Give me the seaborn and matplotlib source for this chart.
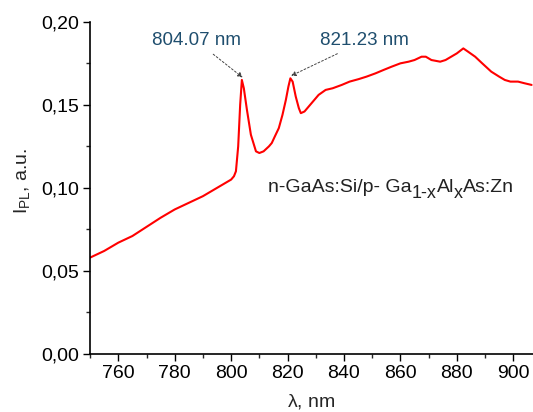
import numpy as np
import pandas as pd
import seaborn as sns
import matplotlib.pyplot as plt
from matplotlib.ticker import MultipleLocator, FuncFormatter

# PL spectrum
wavelength = [750, 755, 760, 765, 770, 775, 780, 785, 790, 795, 798, 800, 801, 801.7,
              802.5, 803.2, 803.8, 804.5, 805.6, 807, 808.8, 810, 811.5, 813.4,
              814.4, 815.5, 816.9, 818.2, 819.4, 820.3, 821.0, 821.8, 822.9, 824.0,
              824.7, 826, 827.5, 831, 833.5, 836, 839.2, 842, 845.2, 848, 851.2,
              854, 856.9, 860, 862.9, 865, 867.5, 869, 871, 874.1, 876, 878, 880,
              882.3, 884, 886.5, 889, 892.2, 895, 897, 899, 901.7, 904, 906.5]
intensity = [0.058, 0.062, 0.067, 0.071, 0.0765, 0.082, 0.087, 0.091, 0.095, 0.100,
             0.103, 0.105, 0.107, 0.110, 0.125, 0.150, 0.165, 0.160, 0.147, 0.132,
             0.122, 0.121, 0.122, 0.125, 0.127, 0.131, 0.136, 0.144, 0.153, 0.161,
             0.166, 0.164, 0.155, 0.148, 0.145, 0.146, 0.149, 0.156, 0.159, 0.160,
             0.162, 0.164, 0.1655, 0.167, 0.169, 0.171, 0.173, 0.175, 0.176, 0.177,
             0.179, 0.179, 0.177, 0.176, 0.177, 0.179, 0.181, 0.184, 0.182, 0.179,
             0.175, 0.170, 0.167, 0.165, 0.164, 0.164, 0.163, 0.162]

peak_labels = ["804.07 nm", "821.23 nm"]
peak_x = [804.07, 821.23]
peak_y = [0.165, 0.166]

# sample label pieces: (text, baseline shift in points)
sample_parts = [("n-GaAs:Si/p- Ga", 0), ("1-x", -4), ("Al", 4), ("x", -4), ("As:Zn", 4)]

df = pd.DataFrame({"wl": wavelength, "I": intensity})

sns.set_style("ticks")
plt.rcParams["font.family"] = ["Liberation Sans", "DejaVu Sans"]
plt.rcParams["mathtext.fontset"] = "custom"
plt.rcParams["mathtext.rm"] = "Liberation Sans"
plt.rcParams["mathtext.it"] = "Liberation Sans"

fig = plt.figure(figsize=(5.33, 4.12), dpi=100)
ax = fig.add_axes([0.169, 0.141, 0.831, 0.806])
sns.lineplot(data=df, x="wl", y="I", color="#ff0000", linewidth=1.5, ax=ax)

ax.set_xlim(750, 907)
ax.set_ylim(0, 0.2)
ax.xaxis.set_major_locator(MultipleLocator(20))
ax.xaxis.set_minor_locator(MultipleLocator(10))
ax.yaxis.set_major_locator(MultipleLocator(0.05))
ax.yaxis.set_minor_locator(MultipleLocator(0.025))
ax.yaxis.set_major_formatter(FuncFormatter(lambda v, p: f"{v:.2f}".replace(".", ",")))
ax.set_xticks([760, 780, 800, 820, 840, 860, 880, 900])
ax.tick_params(which="major", labelsize=14, length=5, width=1, colors="black", pad=3)
ax.tick_params(which="minor", length=3, width=1)
sns.despine(ax=ax)
for s in ["left", "bottom"]:
    ax.spines[s].set_color("black")
    ax.spines[s].set_linewidth(1.2)

ax.set_xlabel(r"$\mathrm{\lambda}$, nm", fontsize=14, labelpad=7)
ax.set_ylabel(r"I$_{\mathrm{PL}}$, a.u.", fontsize=14, labelpad=8)
ax.yaxis.set_label_coords(-0.13, 0.52)

text_pos = [(787.6, 0.1835), (847.3, 0.1835)]
for lab, px, py, (tx, ty) in zip(peak_labels, peak_x, peak_y, text_pos):
    ax.annotate(lab, xy=(px, py + 0.0015), xytext=(tx, ty), fontsize=13.5,
                color="#1f4e6e", ha="center", va="bottom",
                arrowprops=dict(arrowstyle="-|>", linestyle=(0, (2, 2)), color="#444444",
                                lw=0.7, mutation_scale=7, shrinkA=2, shrinkB=0))

prev = ax.text(813.2, 0.095, sample_parts[0][0], fontsize=14, ha="left", va="bottom",
               color="#222222")
for txt, dy in sample_parts[1:]:
    prev = ax.annotate(txt, xy=(1, 0), xycoords=prev, xytext=(0, dy),
                       textcoords="offset points", fontsize=13 if dy < 0 else 14,
                       ha="left", va="bottom", color="#222222")

fig.savefig("out.png", dpi=100)
